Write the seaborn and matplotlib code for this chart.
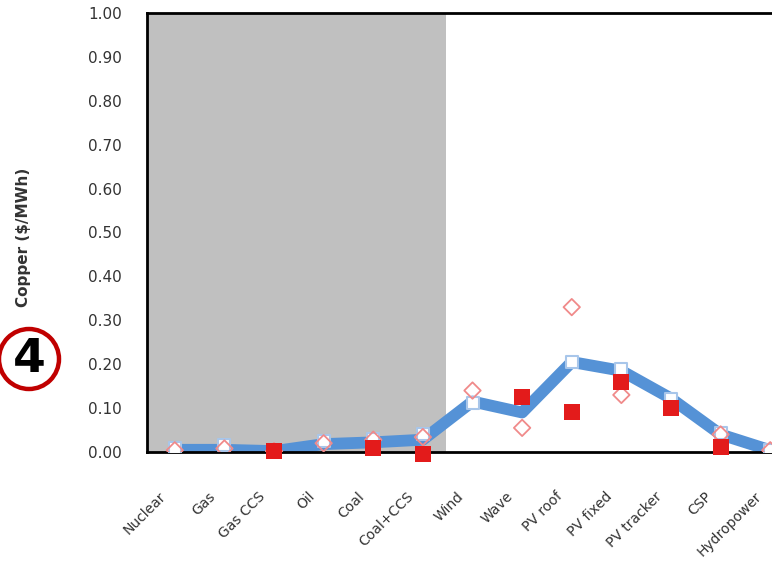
import numpy as np
import pandas as pd
import matplotlib
matplotlib.use('Agg')
import matplotlib.pyplot as plt
import matplotlib.transforms as mtransforms
from matplotlib.patches import Ellipse
import seaborn as sns


categories = ['Nuclear', 'Gas', 'Gas CCS', 'Oil', 'Coal', 'Coal+CCS', 'Wind',
              'Wave', 'PV roof', 'PV fixed', 'PV tracker', 'CSP', 'Hydropower']
line_values = [0.005, 0.005, 0.002, 0.018, 0.022, 0.028, 0.115,
               0.090, 0.205, 0.185, 0.122, 0.040, 0.004]
open_square_values = [0.008, 0.015, 0.004, 0.024, 0.030, 0.042, 0.112,
                      np.nan, 0.205, 0.188, 0.120, 0.043, 0.005]
diamond_values = [0.004, 0.008, 0.002, 0.020, 0.028, 0.034, 0.140,
                  0.055, 0.330, 0.130, np.nan, 0.040, 0.004]
red_square_values = [np.nan, np.nan, 0.003, np.nan, 0.010, -0.004, np.nan,
                     0.125, 0.090, 0.160, 0.100, 0.011, np.nan]
y_ticks = [0.0, 0.1, 0.2, 0.3, 0.4, 0.5, 0.6, 0.7, 0.8, 0.9, 1.0]


def main():
    df = pd.DataFrame({'pos': np.arange(len(categories)),
                       'line': line_values,
                       'open_sq': open_square_values,
                       'diamond': diamond_values,
                       'red_sq': red_square_values})

    sns.set_style('white')
    plt.rcParams['font.family'] = ['DejaVu Sans']

    fig = plt.figure(figsize=(7.72, 5.63), dpi=100)
    # axes runs past the right edge, the source picture is cropped there
    ax = fig.add_axes([147 / 772, 111 / 563, 651 / 772, 439 / 563])

    ax.axvspan(-0.6, 5.47, color='#c0c0c0', zorder=0, lw=0)

    sns.lineplot(data=df, x='pos', y='line', color='#5592d6', linewidth=8.5,
                 sort=False, ax=ax, zorder=2)
    sns.scatterplot(data=df, x='pos', y='open_sq', marker='s', s=80,
                    facecolor='white', edgecolor='#a8c6ea', linewidth=1.5,
                    ax=ax, zorder=3)
    sns.scatterplot(data=df, x='pos', y='diamond', marker='D', s=70,
                    facecolor='none', edgecolor='#f08a8a', linewidth=1.3,
                    ax=ax, zorder=4)
    sns.scatterplot(data=df, x='pos', y='red_sq', marker='s', s=130,
                    color='#e31b1b', linewidth=0, ax=ax, zorder=5,
                    clip_on=False)

    ax.set_xlim(-0.56, 12.56)
    ax.set_ylim(0, 1.0)
    ax.set_yticks(y_ticks)
    ax.set_yticklabels(['{:.2f}'.format(v) for v in y_ticks],
                       fontsize=11, color='#333333')
    ax.set_xticks(df['pos'])
    ax.set_xticklabels(categories, rotation=45, ha='right',
                       rotation_mode='anchor', fontsize=10, color='#333333')
    ax.tick_params(axis='y', length=0, pad=18)
    ax.tick_params(axis='x', length=0, pad=24)
    # labels sit a bit left of their ticks in the source
    shift = mtransforms.ScaledTranslation(-16 / 100, -4 / 100,
                                          fig.dpi_scale_trans)
    for lab in ax.get_xticklabels():
        lab.set_transform(lab.get_transform() + shift)
    ax.set_xlabel('')
    ax.set_ylabel('Copper ($/MWh)', fontsize=11, fontweight='bold',
                  color='#333333', labelpad=36)
    ax.yaxis.set_label_coords(-0.178, 0.49)

    for side in ['left', 'bottom', 'top', 'right']:
        ax.spines[side].set_color('black')
        ax.spines[side].set_linewidth(2)

    # the red circled number to the left of the axis
    circle = Ellipse((29 / 772, 1 - 359 / 563), 60 / 772, 60 / 563,
                     transform=fig.transFigure, facecolor='none',
                     edgecolor='#c00000', linewidth=3.2)
    fig.add_artist(circle)
    fig.text(29 / 772, 1 - 359 / 563, '4', fontsize=34, fontweight='bold',
             ha='center', va='center', color='black')

    fig.savefig('out.png', dpi=100)


if __name__ == '__main__':
    main()
